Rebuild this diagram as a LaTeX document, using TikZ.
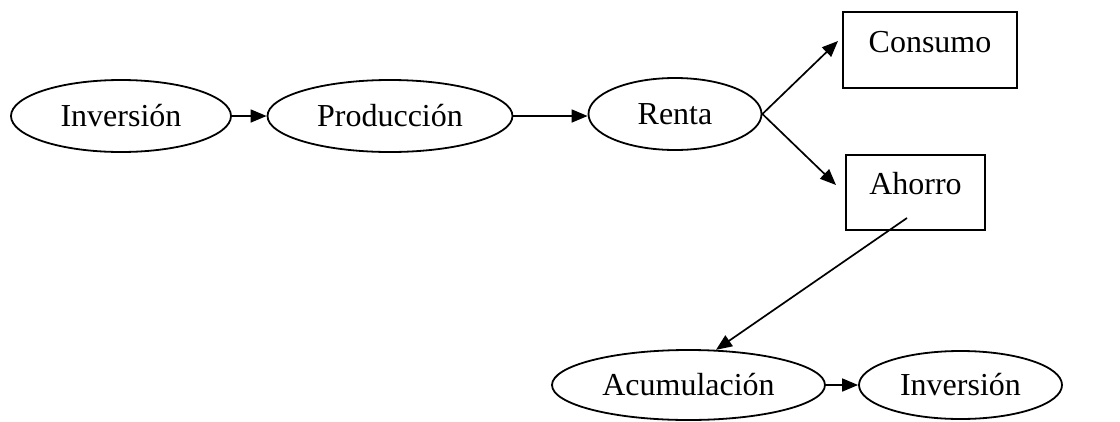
\documentclass[tikz,border=0pt]{standalone}
\usepackage{fontspec}
\setmainfont{Liberation Serif}
\usetikzlibrary{shapes.geometric,arrows.meta}
\begin{document}
\begin{tikzpicture}[x=1pt,y=-1pt,
  every node/.style={font=\fontsize{32}{34}\selectfont, inner sep=0pt},
  oval/.style={draw, ellipse, line width=1.8pt},
  boxn/.style={draw, rectangle, line width=1.8pt, text height=22pt, text depth=18pt},
  arr/.style={line width=1.7pt, -{Triangle[length=16pt,width=13pt]}}]
\useasboundingbox (0,0) rectangle (1120,421);
\node[oval, minimum width=220pt, minimum height=72pt] (inv1) at (121,116) {Inversión};
\node[oval, minimum width=245pt, minimum height=72pt] (prod) at (390,116) {Producción};
\node[oval, minimum width=173pt, minimum height=72pt] (renta) at (675,114) {Renta};
\node[boxn, minimum width=174pt, minimum height=76pt] (cons) at (930,50) {Consumo};
\node[boxn, minimum width=139pt, minimum height=75pt] (ahorro) at (915.5,192.5) {Ahorro};
\node[oval, minimum width=273pt, minimum height=70pt] (acum) at (688.5,385) {Acumulación};
\node[oval, minimum width=203pt, minimum height=68pt] (inv2) at (960.5,385) {Inversión};
\coordinate (c1) at (838,41);
\coordinate (a0) at (836,185);
\coordinate (ahs) at (907,218);
\draw[arr] (inv1.east) -- (prod.west);
\draw[arr] (prod.east) -- (prod.east -| renta.west);
\draw[arr] (renta.east) -- (c1);
\draw[arr] (renta.east) -- (a0);
\draw[arr] (ahs) -- (acum.52);
\draw[arr] (acum.east) -- (inv2.west);
\end{tikzpicture}
\end{document}
